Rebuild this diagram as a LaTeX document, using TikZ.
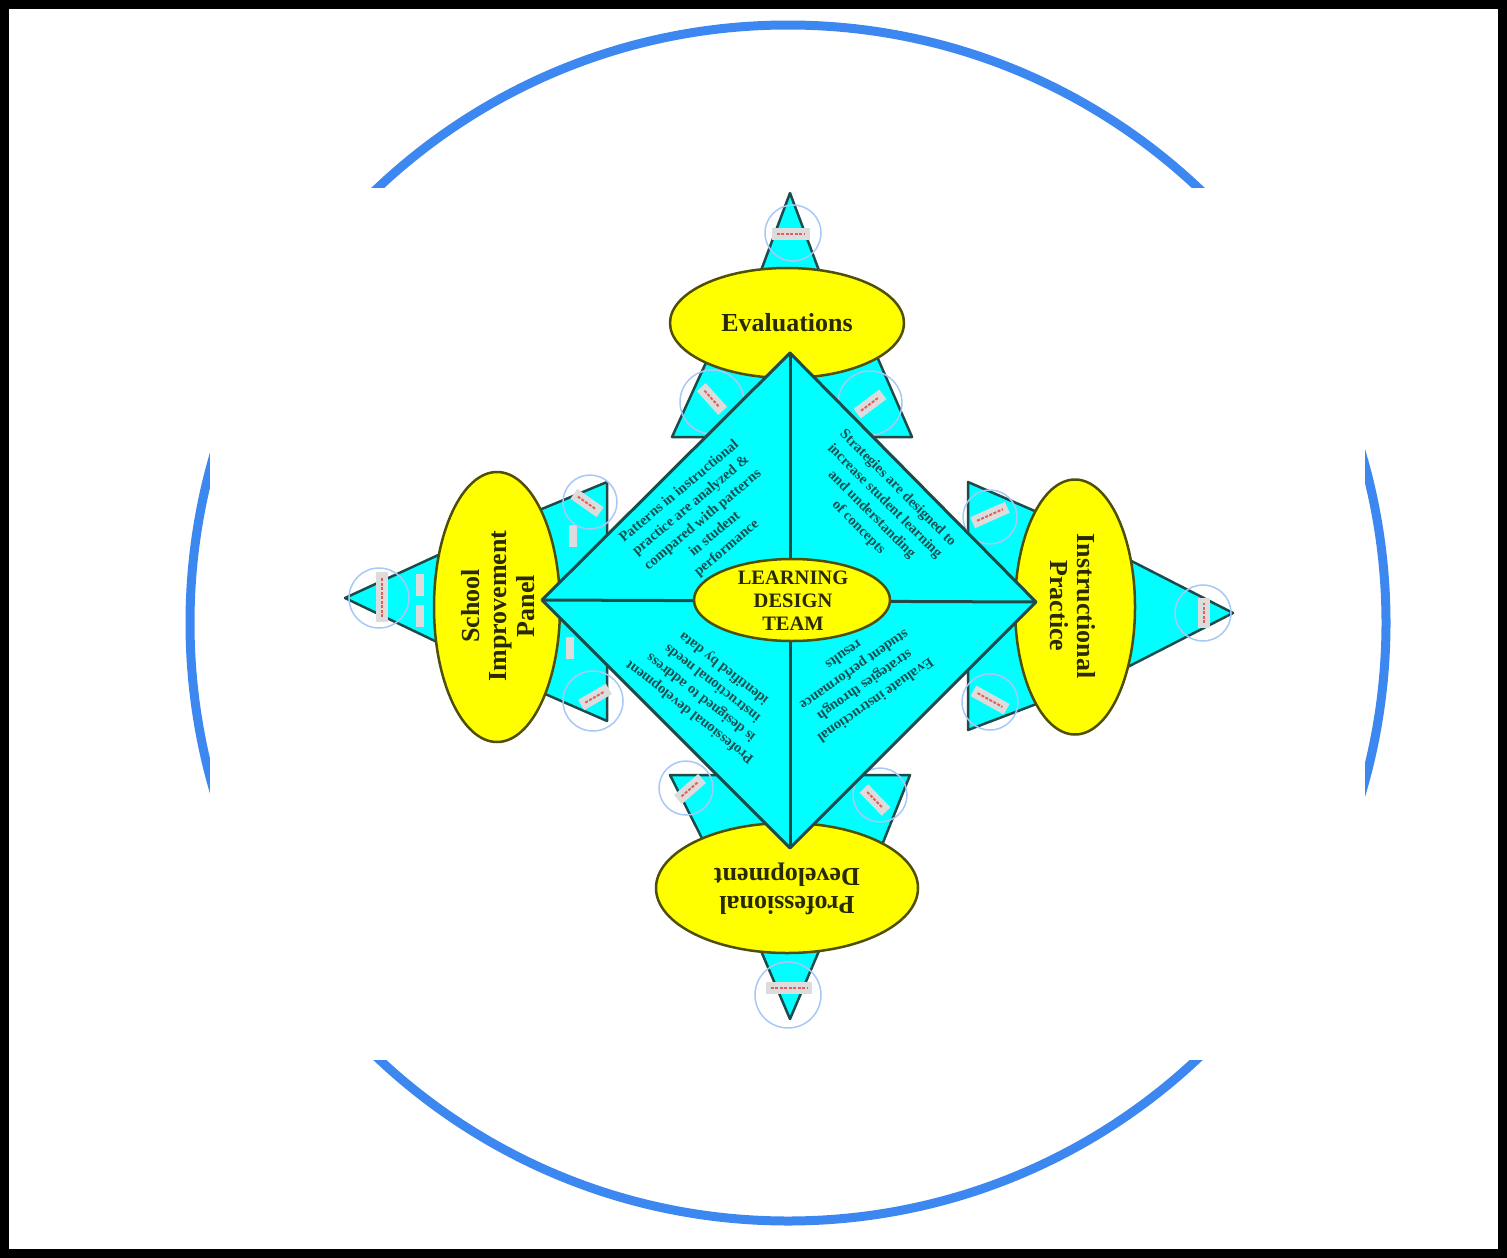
\documentclass[tikz,border=0pt]{standalone}
\usepackage{fontspec}
\setmainfont{Liberation Serif}
\usetikzlibrary{shapes.geometric}
\definecolor{cyanF}{HTML}{00FFFF}
\definecolor{edgeC}{HTML}{1E4A4A}
\definecolor{yel}{HTML}{FFFF00}
\definecolor{olv}{HTML}{4F4F0A}
\definecolor{ringC}{HTML}{3D88F0}
\definecolor{haloC}{HTML}{A8C8F8}
\definecolor{labG}{HTML}{DCDCDC}
\definecolor{redC}{HTML}{E06060}
\definecolor{qtxt}{HTML}{164F4F}
\definecolor{btxt}{HTML}{2A2A00}
\begin{document}
\begin{tikzpicture}[x=1pt,y=-1pt,
  tri/.style={fill=cyanF, draw=edgeC, line width=2.5pt, line join=round},
  dia/.style={fill=cyanF, draw=edgeC, line width=3pt, line join=round},
  bubble/.style={ellipse, fill=yel, draw=olv, line width=2.5pt, inner sep=0pt},
  btext/.style={font=\bfseries\fontsize{26}{27.5}\selectfont, text=btxt, align=center, inner sep=0pt},
  ctext/.style={font=\bfseries\fontsize{20.5}{23}\selectfont, text=btxt, align=center, inner sep=0pt},
  quad/.style={font=\bfseries\fontsize{14.5}{18.5}\selectfont, text=qtxt, align=center, inner sep=0pt},
  lab/.style={fill=labG, minimum height=12pt, inner sep=0pt},
  redm/.style={draw=redC, line width=2pt, dash pattern=on 3pt off 1.5pt, shorten <=5pt, shorten >=5pt},
  halo/.style={circle, draw=haloC, line width=1.5pt, inner sep=0pt},
  smallg/.style={fill=labG, minimum width=8pt, minimum height=22pt, inner sep=0pt}
]
\useasboundingbox (0,0) rectangle (1507,1258);
\fill[white] (0,0) rectangle (1507,1258);
% blue ring, partly hidden
\draw[ringC, line width=9pt] (788,623) circle[radius=598pt];
\fill[white] (210,188) rectangle (1365,1060);
% frame
\draw[black, line width=9pt] (4.5,4.5) rectangle (1502.5,1253.5);

% ---- triangles (behind ellipses and diamond)
% top cluster
\filldraw[tri] (790,193) -- (750,300) -- (830,300) -- cycle;
\filldraw[tri] (672,437) -- (790,437) -- (790,340) -- (714,345) -- cycle;
\filldraw[tri] (912,437) -- (790,437) -- (790,340) -- (872,345) -- cycle;
% right cluster
\filldraw[tri] (1233,613) -- (1110,550) -- (1110,676) -- cycle;
\filldraw[tri] (968,482) -- (1060,522) -- (1060,607) -- (968,607) -- cycle;
\filldraw[tri] (968,730) -- (1060,695) -- (1060,607) -- (968,607) -- cycle;
% bottom cluster
\filldraw[tri] (790,1019) -- (750,925) -- (830,925) -- cycle;
\filldraw[tri] (670,775) -- (790,775) -- (787,880) -- (718,870) -- cycle;
\filldraw[tri] (910,775) -- (790,775) -- (787,880) -- (870,875) -- cycle;
% left cluster
\filldraw[tri] (345,598) -- (460,545) -- (460,653) -- cycle;
\filldraw[tri] (607,482) -- (520,518) -- (520,600) -- (607,600) -- cycle;
\filldraw[tri] (607,721) -- (520,683) -- (520,600) -- (607,600) -- cycle;

% ---- link tags on triangles
\foreach \i/\x/\y/\a/\w in {1/791/234/0/38, 2/712/399/-48/32, 3/870/404/37/32,
  4/990/515/24/38, 5/990/700/-29/38, 6/1204/613/90/30,
  7/789/988/0/46, 8/690/789/41/32, 9/875/800/-46/32,
  10/382/597/90/50, 11/587/503/-35/32, 12/595/697/30/32}{
  \node[lab, rotate=\a, minimum width=\w pt] (tag\i) at (\x,\y) {};
  \draw[redm] (tag\i.west) -- (tag\i.east);
}
\node[smallg] (g1) at (420,585) {};
\node[smallg] (g2) at (420,616) {};
\node[smallg] (g3) at (573,536) {};
\node[smallg] (g4) at (570,648) {};
\foreach \i/\x/\y/\r in {1/793/233/28, 2/712/402/32, 3/870/403/32, 4/990/517/27,
  5/990/702/28, 6/1203/613/28, 7/788/995/33, 8/686/788/27, 9/880/795/27,
  10/379/598/30, 11/590/502/27, 12/593/701/30}{
  \node[halo, minimum size=2*\r pt] (h\i) at (\x,\y) {};
}

% ---- outer ellipses
\node[bubble, minimum width=234pt, minimum height=110pt] (eval) at (787,323) {};
\node[btext] (evalt) at (eval) {Evaluations};
\node[bubble, minimum width=262pt, minimum height=130pt] (pd) at (787,888) {};
\node[btext, rotate=180] (pdt) at (787,889) {Professional\\Development};
\node[bubble, minimum width=120pt, minimum height=255pt] (ip) at (1075,607) {};
\node[btext, rotate=-90] (ipt) at (1073,606) {Instructional\\Practice};
\node[bubble, minimum width=126pt, minimum height=270pt] (sip) at (497,607) {};
\node[btext, rotate=90] (sipt) at (498,606) {School\\Improvement\\Panel};

% ---- diamond
\coordinate (dT) at (790,353);
\coordinate (dR) at (1036,602);
\coordinate (dB) at (790,848);
\coordinate (dL) at (542,600);
\filldraw[dia] (dT) -- (dR) -- (dB) -- (dL) -- cycle;
\draw[dia, fill=none] (dT) -- (dB);
\draw[dia, fill=none] (dL) -- (dR);

% ---- quadrant texts
\node[quad, rotate=40] (q1) at (703,520) {Patterns in instructional\\practice are analyzed \&\\compared with patterns\\in student\\performance};
\node[quad, rotate=-45] (q2) at (878,508) {Strategies are designed to\\increase student learning\\and understanding\\of concepts};
\node[quad, rotate=142] (q3) at (707,690) {Professional development\\is designed to address\\instructional needs\\identified by data};
\node[quad, rotate=215] (q4) at (860,678) {Evaluate instructional\\strategies through\\student performance\\results};

% ---- centre
\node[bubble, minimum width=196pt, minimum height=82pt] (ldt) at (792,600) {};
\node[ctext] (ldtt) at (793,601) {LEARNING\\DESIGN\\TEAM};
\end{tikzpicture}
\end{document}
